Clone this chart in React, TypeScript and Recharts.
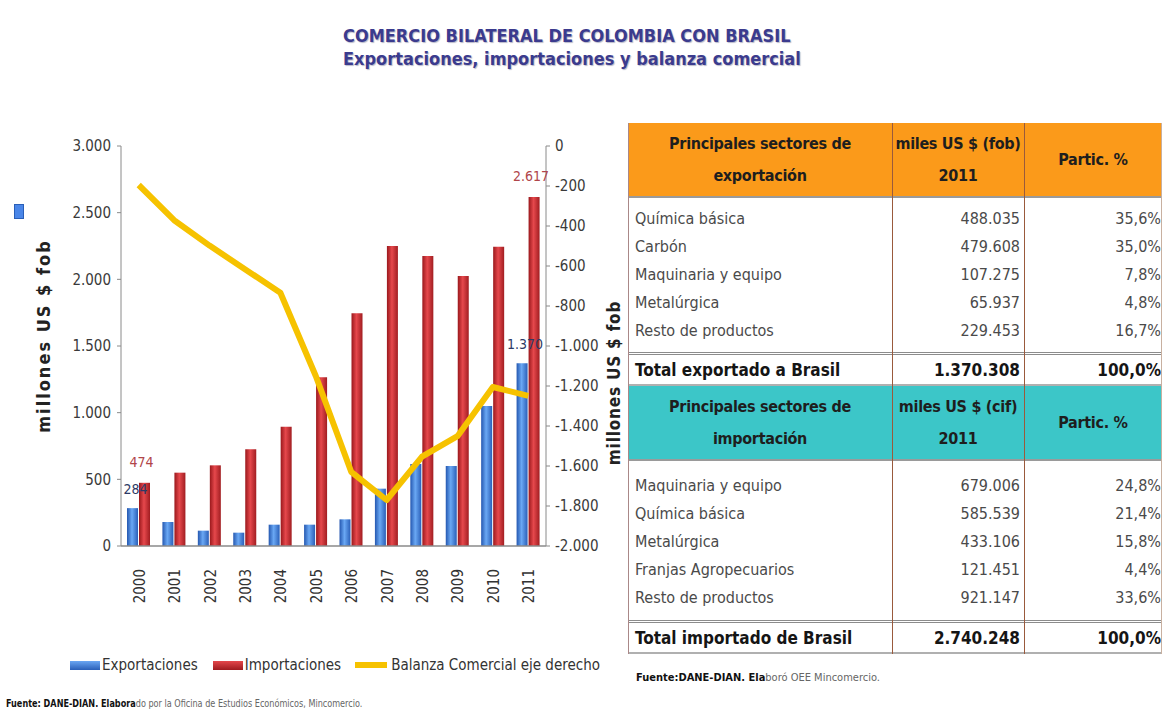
import React from 'react'
import { ComposedChart, Bar, Line, XAxis, YAxis, LabelList } from 'recharts'

const years = ['2000', '2001', '2002', '2003', '2004', '2005', '2006', '2007', '2008', '2009', '2010', '2011']
const exportaciones = [284, 180, 115, 100, 160, 160, 200, 430, 615, 600, 1050, 1370]
const importaciones = [474, 550, 605, 725, 895, 1265, 1745, 2250, 2175, 2025, 2245, 2617]
const balanza = [-195, -371, -498, -616, -734, -1150, -1629, -1770, -1553, -1451, -1205, -1249]
const leftTicks = [0, 500, 1000, 1500, 2000, 2500, 3000]
const rightTicks = [-2000, -1800, -1600, -1400, -1200, -1000, -800, -600, -400, -200, 0]
const labeledYears = ['2000', '2011']

const expSectores = ['Química básica', 'Carbón', 'Maquinaria y equipo', 'Metalúrgica', 'Resto de productos']
const expValores = ['488.035', '479.608', '107.275', '65.937', '229.453']
const expPartic = ['35,6%', '35,0%', '7,8%', '4,8%', '16,7%']
const impSectores = ['Maquinaria y equipo', 'Química básica', 'Metalúrgica', 'Franjas Agropecuarios', 'Resto de productos']
const impValores = ['679.006', '585.539', '433.106', '121.451', '921.147']
const impPartic = ['24,8%', '21,4%', '15,8%', '4,4%', '33,6%']

const chartData = years.map((year, i) => ({
  year,
  exp: exportaciones[i],
  imp: importaciones[i],
  bal: balanza[i],
}))

const NARROW = "'Liberation Sans Narrow', 'DejaVu Sans Condensed', 'Liberation Sans', Arial, sans-serif"
const AXIS = '#8a8a8a'
const COLS = [264, 132, 138]

const fmt = (v: number) => {
  const s = Math.abs(v).toString().replace(/\B(?=(\d{3})+(?!\d))/g, '.')
  return v < 0 ? '-' + s : s
}

// data labels only on the first and last year, like the original
const barLabel = (color: string, dx: number, dy: number) => (props: any) => {
  const { x, y, width, value, index } = props
  if (!labeledYears.includes(years[index])) return null
  return (
    <text x={x + width / 2 + dx} y={y + dy} textAnchor="middle" fontSize={14} fill={color} fontFamily={NARROW}>
      {fmt(value)}
    </text>
  )
}

const YearTick = (props: any) => {
  const { x, y, payload } = props
  return (
    <text
      transform={`translate(${x + 1},${y + 15}) rotate(-90)`}
      textAnchor="end"
      dominantBaseline="central"
      fontSize={15}
      fill="#333"
      fontFamily={NARROW}
    >
      {payload.value}
    </text>
  )
}

function TableRow({ cells, height, total }: { cells: string[]; height: number; total?: boolean }) {
  return (
    <div
      style={{
        display: 'flex',
        alignItems: 'center',
        height,
        boxSizing: 'border-box',
        fontSize: total ? 17 : 16,
        fontWeight: total ? 'bold' : 'normal',
        color: total ? '#151515' : '#4a4a4a',
        borderTop: total ? '3px double #8c8c8c' : undefined,
        borderBottom: total ? '2px solid #b0b0b0' : undefined,
      }}
    >
      <div style={{ width: COLS[0], paddingLeft: 7, boxSizing: 'border-box' }}>{cells[0]}</div>
      <div style={{ width: COLS[1], paddingRight: 4, textAlign: 'right', boxSizing: 'border-box' }}>{cells[1]}</div>
      <div style={{ width: COLS[2], paddingRight: 1, textAlign: 'right', boxSizing: 'border-box' }}>{cells[2]}</div>
    </div>
  )
}

function TableHead({ bg, lines, valueLines }: { bg: string; lines: string[]; valueLines: string[] }) {
  const cell = (w: number, content: React.ReactNode) => (
    <div style={{ width: w, textAlign: 'center', lineHeight: '32px', whiteSpace: 'nowrap' }}>{content}</div>
  )
  return (
    <div
      style={{
        display: 'flex',
        alignItems: 'center',
        height: 75,
        background: bg,
        fontSize: 16,
        fontWeight: 'bold',
        color: '#1e1e1e',
        letterSpacing: -0.3,
        borderBottom: '2px solid #9a9a9a',
        boxSizing: 'border-box',
      }}
    >
      {cell(COLS[0], <>{lines[0]}<br />{lines[1]}</>)}
      {cell(COLS[1], <>{valueLines[0]}<br />{valueLines[1]}</>)}
      {cell(COLS[2], 'Partic. %')}
    </div>
  )
}

function SectorTable() {
  return (
    <div style={{ position: 'absolute', left: 628, top: 123, width: 534, fontFamily: NARROW, background: '#fff' }}>
      <TableHead bg="#fb9a1a" lines={['Principales sectores de', 'exportación']} valueLines={['miles US $ (fob)', '2011']} />
      <div style={{ height: 6 }} />
      {expSectores.map((s, i) => (
        <TableRow key={s} cells={[s, expValores[i], expPartic[i]]} height={28} />
      ))}
      <div style={{ height: 8 }} />
      <TableRow cells={['Total exportado a Brasil', '1.370.308', '100,0%']} height={34} total />
      <TableHead bg="#3cc6c8" lines={['Principales sectores de', 'importación']} valueLines={['miles US $ (cif)', '2011']} />
      <div style={{ height: 10 }} />
      {impSectores.map((s, i) => (
        <TableRow key={s} cells={[s, impValores[i], impPartic[i]]} height={28} />
      ))}
      <div style={{ height: 9 }} />
      <TableRow cells={['Total importado de Brasil', '2.740.248', '100,0%']} height={34} total />
      <div style={{ position: 'absolute', left: 0, top: 0, bottom: 0, width: 1, background: '#a88' }} />
      <div style={{ position: 'absolute', left: COLS[0], top: 0, bottom: 0, width: 1, background: '#9a5a3c' }} />
      <div style={{ position: 'absolute', left: COLS[0] + COLS[1], top: 0, bottom: 0, width: 1, background: '#9a5a3c' }} />
      <div style={{ position: 'absolute', right: 0, top: 0, bottom: 0, width: 1, background: '#c8b0a0' }} />
      <div style={{ position: 'absolute', left: 8, top: 548, fontSize: 11, color: '#666', whiteSpace: 'nowrap' }}>
        <b style={{ color: '#111' }}>Fuente:DANE-DIAN. Ela</b>boró OEE Mincomercio.
      </div>
    </div>
  )
}

function Swatch({ kind }: { kind: 'exp' | 'imp' | 'bal' }) {
  if (kind === 'bal') return <div style={{ width: 32, height: 6, background: '#f6c200', marginRight: 4 }} />
  const bg =
    kind === 'exp'
      ? 'linear-gradient(#6aa6f2, #2a5fb8)'
      : 'linear-gradient(#e4474b, #9e1b1f)'
  return <div style={{ width: 30, height: 9, background: bg, marginRight: 2 }} />
}

const axisTitle = {
  position: 'absolute' as const,
  transform: 'translate(-50%, -50%) rotate(-90deg)',
  fontFamily: NARROW,
  fontWeight: 'bold' as const,
  color: '#222',
  whiteSpace: 'nowrap' as const,
}

export default function App() {
  return (
    <div style={{ position: 'absolute', left: 0, top: 0, width: 1165, height: 717, background: '#fff', overflow: 'hidden' }}>
      <div
        style={{
          position: 'absolute',
          left: 343,
          top: 24,
          fontFamily: NARROW,
          fontWeight: 'bold',
          fontSize: 18,
          lineHeight: '23px',
          color: '#3b3b8e',
          textShadow: '1px 1px 1px #b8b8c8',
          whiteSpace: 'nowrap',
        }}
      >
        <div>COMERCIO BILATERAL DE COLOMBIA CON BRASIL</div>
        <div>Exportaciones, importaciones y balanza comercial</div>
      </div>

      <div style={{ position: 'absolute', left: 14, top: 204, width: 8, height: 13, background: '#4a86e8', border: '1px solid #2a5fb8' }} />

      <div style={{ position: 'absolute', left: 0, top: 0 }}>
        <ComposedChart
          width={630}
          height={717}
          data={chartData}
          margin={{ top: 146, right: 0, bottom: 111, left: 0 }}
          barGap={1}
          barSize={11}
        >
          <defs>
            <linearGradient id="gradExp" x1="0" y1="0" x2="1" y2="0">
              <stop offset="0%" stopColor="#2457b0" />
              <stop offset="45%" stopColor="#6aa8f4" />
              <stop offset="100%" stopColor="#2a5fb8" />
            </linearGradient>
            <linearGradient id="gradImp" x1="0" y1="0" x2="1" y2="0">
              <stop offset="0%" stopColor="#9a181c" />
              <stop offset="45%" stopColor="#e6484c" />
              <stop offset="100%" stopColor="#a11d21" />
            </linearGradient>
          </defs>
          <XAxis
            dataKey="year"
            xAxisId="x"
            interval={0}
            height={60}
            tick={<YearTick />}
            tickLine={false}
            axisLine={{ stroke: AXIS, strokeWidth: 1.5 }}
          />
          <YAxis
            yAxisId="left"
            domain={[0, 3000]}
            ticks={leftTicks}
            width={121}
            tickFormatter={fmt}
            tickSize={4}
            tickMargin={6}
            tick={{ fontSize: 15, fill: '#3a3a3a', fontFamily: NARROW }}
            axisLine={{ stroke: AXIS }}
            tickLine={{ stroke: AXIS }}
          />
          <YAxis
            yAxisId="right"
            orientation="right"
            domain={[-2000, 0]}
            ticks={rightTicks}
            width={84}
            tickFormatter={fmt}
            tickSize={4}
            tickMargin={5}
            tick={{ fontSize: 15, fill: '#3a3a3a', fontFamily: NARROW }}
            axisLine={{ stroke: AXIS }}
            tickLine={{ stroke: AXIS }}
          />
          <Bar dataKey="exp" xAxisId="x" yAxisId="left" fill="url(#gradExp)" isAnimationActive={false}>
            <LabelList dataKey="exp" content={barLabel('#2d3a66', 3, -14)} />
          </Bar>
          <Bar dataKey="imp" xAxisId="x" yAxisId="left" fill="url(#gradImp)" isAnimationActive={false}>
            <LabelList dataKey="imp" content={barLabel('#b0454a', -3, -16)} />
          </Bar>
          <Line
            dataKey="bal"
            xAxisId="x"
            yAxisId="right"
            type="linear"
            stroke="#f6c200"
            strokeWidth={6}
            dot={false}
            strokeLinejoin="round"
            isAnimationActive={false}
          />
        </ComposedChart>
      </div>

      <div style={{ ...axisTitle, left: 43, top: 336, fontSize: 18, letterSpacing: 2 }}>millones US $ fob</div>
      <div style={{ ...axisTitle, left: 614, top: 383, fontSize: 17, letterSpacing: 0.8 }}>millones US $ fob</div>

      <div
        style={{
          position: 'absolute',
          left: 70,
          top: 656,
          display: 'flex',
          alignItems: 'center',
          fontFamily: NARROW,
          fontSize: 15,
          color: '#333',
          whiteSpace: 'nowrap',
        }}
      >
        <Swatch kind="exp" />
        <span style={{ marginRight: 15 }}>Exportaciones</span>
        <Swatch kind="imp" />
        <span style={{ marginRight: 14 }}>Importaciones</span>
        <Swatch kind="bal" />
        <span>Balanza Comercial eje derecho</span>
      </div>

      <div
        style={{
          position: 'absolute',
          left: 6,
          top: 697,
          fontFamily: NARROW,
          fontSize: 11,
          color: '#666',
          whiteSpace: 'nowrap',
          transform: 'scaleX(0.82)',
          transformOrigin: 'left center',
        }}
      >
        <b style={{ color: '#111' }}>Fuente: DANE-DIAN. Elabora</b>do por la Oficina de Estudios Económicos, Mincomercio.
      </div>

      <SectorTable />
    </div>
  )
}
